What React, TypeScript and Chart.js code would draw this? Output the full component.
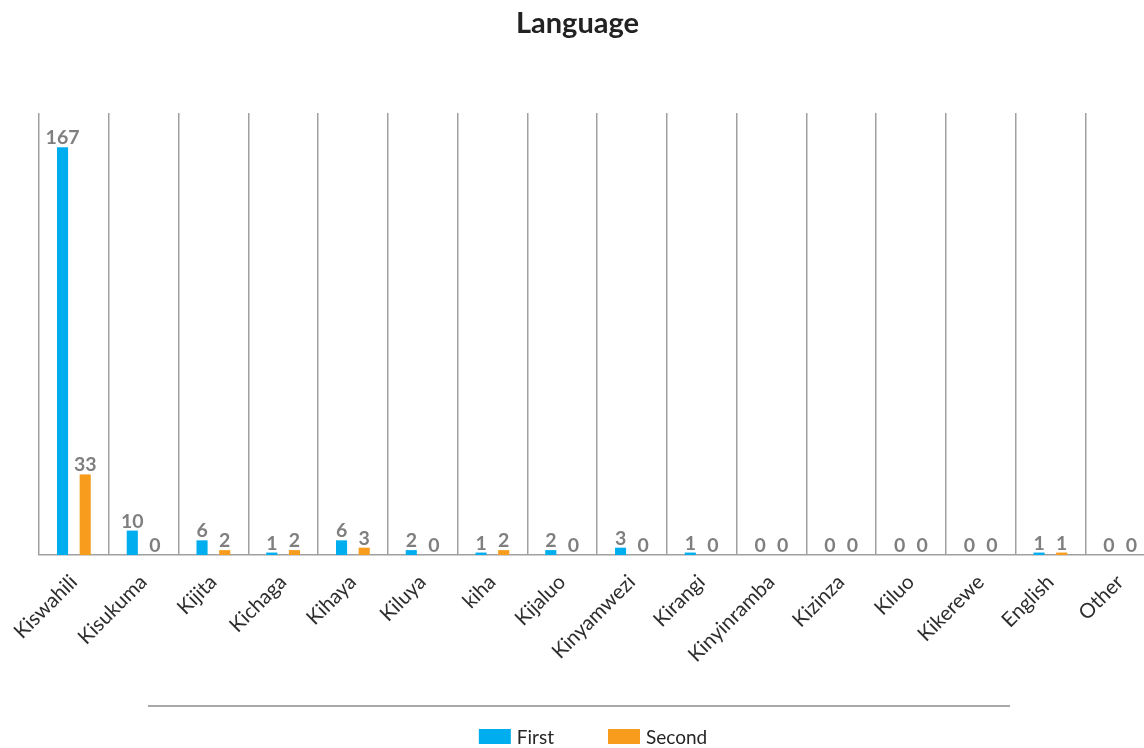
import React, { useEffect, useRef } from "react";
import { Chart, registerables } from "chart.js";

Chart.register(...registerables);

// Languages spoken, grouped as first and second language
const categories = [
  "Kiswahili", "Kisukuma", "Kijita", "Kichaga", "Kihaya", "Kiluya", "kiha", "Kijaluo",
  "Kinyamwezi", "Kirangi", "Kinyinramba", "Kizinza", "Kiluo", "Kikerewe", "English", "Other",
];
const firstLanguage = [167, 10, 6, 1, 6, 2, 1, 2, 3, 1, 0, 0, 0, 0, 1, 0];
const secondLanguage = [33, 0, 2, 2, 3, 0, 2, 0, 0, 0, 0, 0, 0, 0, 1, 0];
const seriesNames = ["First", "Second"];
const seriesColors = ["#00AEEF", "#F79C1D"];
const chartTitle = "Language";
const yMax = 181;

const FONT = "Lato, 'Open Sans', sans-serif";
const CANVAS_W = 1155;
const CANVAS_H = 748;

// Title, value labels, divider rule and legend drawn on the canvas
const decorations = {
  id: "decorations",
  afterDatasetsDraw(chart: any) {
    const ctx = chart.ctx;
    ctx.save();
    ctx.font = `bold 19.5px ${FONT}`;
    ctx.fillStyle = "#7f7f7f";
    ctx.textAlign = "center";
    ctx.textBaseline = "alphabetic";
    chart.data.datasets.forEach((ds: any, di: number) => {
      const meta = chart.getDatasetMeta(di);
      meta.data.forEach((el: any, i: number) => {
        ctx.fillText(String(ds.data[i]), el.x, el.y - 3);
      });
    });
    ctx.restore();
  },
  afterDraw(chart: any) {
    const ctx = chart.ctx;
    ctx.save();
    // title
    ctx.font = `bold 29px ${FONT}`;
    ctx.fillStyle = "#222222";
    ctx.textAlign = "center";
    ctx.textBaseline = "alphabetic";
    ctx.fillText(chartTitle, chart.width / 2, 33);

    // divider rule above the legend
    ctx.strokeStyle = "#8c8c8c";
    ctx.lineWidth = 1.5;
    ctx.beginPath();
    ctx.moveTo(148, 706);
    ctx.lineTo(1010, 706);
    ctx.stroke();

    // legend
    ctx.font = `19px ${FONT}`;
    ctx.textAlign = "left";
    const boxW = 32, boxH = 15, gap = 6, spacing = 54;
    const widths = seriesNames.map((n) => ctx.measureText(n).width);
    const total = widths.reduce((s, w) => s + boxW + gap + w, 0) + spacing * (seriesNames.length - 1);
    let x = 593 - total / 2;
    seriesNames.forEach((name, i) => {
      ctx.fillStyle = seriesColors[i];
      ctx.fillRect(x, 729, boxW, boxH);
      ctx.fillStyle = "#262626";
      ctx.fillText(name, x + boxW + gap, 743.5);
      x += boxW + gap + widths[i] + spacing;
    });
    ctx.restore();
  },
};

export default function App() {
  const ref = useRef<HTMLCanvasElement | null>(null);

  useEffect(() => {
    if (!ref.current) return;
    const chart = new Chart(ref.current, {
      type: "bar",
      data: {
        labels: categories,
        datasets: [
          {
            label: seriesNames[0],
            data: firstLanguage,
            backgroundColor: seriesColors[0],
            categoryPercentage: 0.65,
            barPercentage: 0.49,
          },
          {
            label: seriesNames[1],
            data: secondLanguage,
            backgroundColor: seriesColors[1],
            categoryPercentage: 0.65,
            barPercentage: 0.49,
          },
        ],
      },
      options: {
        responsive: false,
        animation: false,
        devicePixelRatio: 1,
        layout: { padding: { top: 113, bottom: 73, left: 0, right: 0 } },
        plugins: {
          legend: { display: false },
          title: { display: false },
          tooltip: { enabled: false },
        },
        scales: {
          x: {
            offset: true,
            grid: {
              display: true,
              offset: true,
              color: "#a0a0a0",
              lineWidth: 1.5,
              drawTicks: false,
            },
            border: { display: true, color: "#a0a0a0", width: 1.5 },
            ticks: {
              autoSkip: false,
              maxRotation: 45,
              minRotation: 45,
              padding: 15,
              color: "#2e2e2e",
              font: { family: FONT, size: 20.5 },
            },
            afterFit(scale: any) {
              scale.height = 120;
            },
          },
          y: {
            min: 0,
            max: yMax,
            grid: { display: false, drawTicks: false },
            border: { display: false },
            ticks: { display: false },
            afterFit(scale: any) {
              scale.width = 39;
            },
          },
        },
      },
      plugins: [decorations],
    });
    return () => chart.destroy();
  }, []);

  return (
    <div
      style={{
        position: "fixed",
        left: 0,
        top: 0,
        width: 1144,
        height: 748,
        overflow: "hidden",
        background: "#ffffff",
      }}
    >
      <canvas ref={ref} width={CANVAS_W} height={CANVAS_H} style={{ display: "block" }} />
    </div>
  );
}
